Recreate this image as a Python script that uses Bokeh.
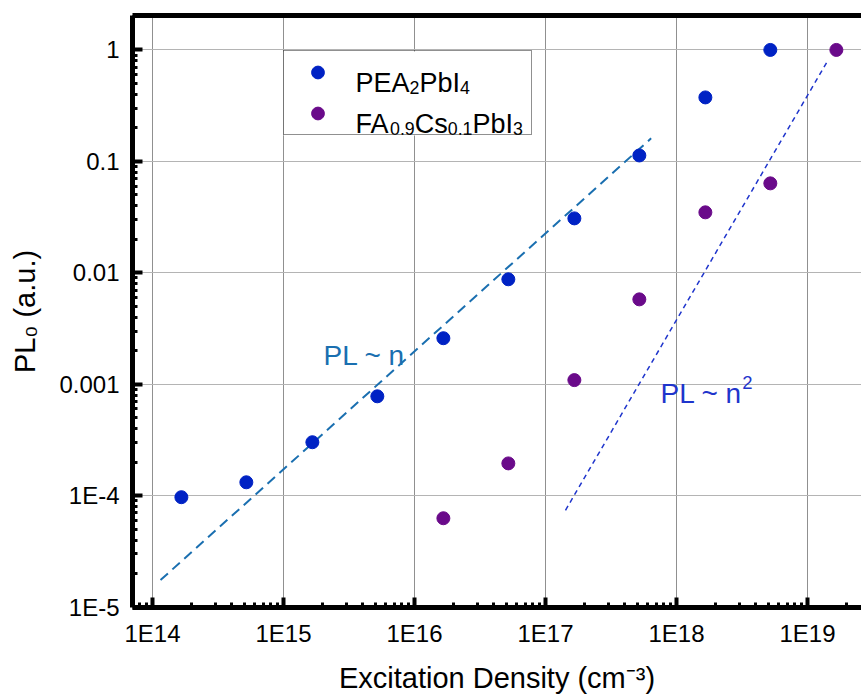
from bokeh.plotting import figure
from bokeh.models import (Range1d, FixedTicker, CustomJSTickFormatter, LogAxis, Label,
                          Legend, LegendItem, BoxAnnotation)
from bokeh.embed import file_html
from bokeh.resources import INLINE

# ---------------- data ----------------
pea_x = [1.66e14, 5.2e14, 1.66e15, 5.2e15, 1.66e16, 5.2e16, 1.66e17, 5.2e17, 1.66e18, 5.2e18]
pea_y = [9.7e-5, 1.32e-4, 3.02e-4, 7.8e-4, 2.59e-3, 8.75e-3, 0.0308, 0.113, 0.375, 1.0]

fa_x = [1.66e16, 5.2e16, 1.66e17, 5.2e17, 1.66e18, 5.2e18, 1.66e19]
fa_y = [6.28e-5, 1.95e-4, 1.09e-3, 5.78e-3, 0.0349, 0.0635, 1.0]

fit_n_x = [1.15e14, 6.4e17]
fit_n_y = [1.75e-5, 0.161]
fit_n2_x = [1.42e17, 1.40e19]
fit_n2_y = [7.4e-5, 0.77]

x_tick_exp = [14, 15, 16, 17, 18, 19]
x_tick_labels = ["1E14", "1E15", "1E16", "1E17", "1E18", "1E19"]
y_tick_exp = [-5, -4, -3, -2, -1, 0]
y_tick_labels = ["1E-5", "1E-4", "0.001", "0.01", "0.1", "1"]

x_label = "Excitation Density (cm\u207b\u00b3)"
y_label = "PL\u2080 (a.u.)"

FONT = "Liberation Sans"
BLUE = "#0022c4"
PURPLE = "#6a0a8a"
TEAL = "#1a6fb0"
LBLUE = "#1f35cc"

# ---------------- figure ----------------
p = figure(width=861, height=698, x_axis_type="log", y_axis_type="log",
           x_range=Range1d(10 ** 13.847, 10 ** 19.412),
           y_range=Range1d(10 ** -5.003, 10 ** 0.309),
           output_backend="svg", toolbar_location=None,
           min_border_left=132, min_border_right=0, min_border_top=15, min_border_bottom=91)
p.outline_line_color = None
p.background_fill_color = "white"


def minors(e_lo, e_hi):
    return [m * 10.0 ** e for e in range(e_lo, e_hi) for m in range(2, 10)]


xt = FixedTicker(ticks=[10.0 ** e for e in x_tick_exp], minor_ticks=minors(13, 20))
yt = FixedTicker(ticks=[10.0 ** e for e in y_tick_exp], minor_ticks=minors(-6, 1))

fmt_code = "const i = Math.round(Math.log10(tick)) - e0; return (i >= 0 && i < labels.length) ? labels[i] : '';"
p.xaxis.ticker = xt
p.yaxis.ticker = yt
p.xaxis.formatter = CustomJSTickFormatter(args=dict(labels=x_tick_labels, e0=x_tick_exp[0]), code=fmt_code)
p.yaxis.formatter = CustomJSTickFormatter(args=dict(labels=y_tick_labels, e0=y_tick_exp[0]), code=fmt_code)

for ax in (p.xaxis[0], p.yaxis[0]):
    ax.axis_line_width = 5
    ax.axis_line_color = "black"
    ax.major_tick_in = 10
    ax.major_tick_out = 0
    ax.minor_tick_in = 5
    ax.minor_tick_out = 0
    ax.major_tick_line_width = 4
    ax.minor_tick_line_width = 3
    ax.major_tick_line_color = "black"
    ax.minor_tick_line_color = "black"
    ax.major_label_text_font = FONT
    ax.major_label_text_font_size = "24px"
    ax.major_label_text_color = "black"
    ax.axis_label_text_font = FONT
    ax.axis_label_text_font_size = "29px"
    ax.axis_label_text_font_style = "normal"
    ax.axis_label_text_color = "black"
p.xaxis.major_label_standoff = 12
p.yaxis.major_label_standoff = 13
p.xaxis.axis_label = x_label
p.yaxis.axis_label = y_label
p.xaxis.axis_label_standoff = 12
p.yaxis.axis_label_standoff = 15

top = LogAxis(ticker=FixedTicker(ticks=[]), axis_line_width=5, axis_line_color="black",
              major_tick_line_color=None, minor_tick_line_color=None,
              major_label_text_font_size="0px")
p.add_layout(top, "above")

p.xgrid.grid_line_color = "#909090"
p.ygrid.grid_line_color = "#b4b4b4"
p.xgrid.grid_line_width = 1
p.ygrid.grid_line_width = 1

# white backing for the legend, drawn over the grid but under the glyphs
p.add_layout(BoxAnnotation(left=151, right=399, bottom=472, top=556,
                           left_units="screen", right_units="screen",
                           bottom_units="screen", top_units="screen",
                           fill_color="white", fill_alpha=1.0, line_color=None,
                           level="underlay", propagate_hover=False))

# ---------------- glyphs ----------------
p.line(fit_n_x, fit_n_y, line_color=TEAL, line_width=2, line_dash="10 6")
p.line(fit_n2_x, fit_n2_y, line_color=LBLUE, line_width=1.5, line_dash="5 4")
r1 = p.scatter(pea_x, pea_y, size=13, fill_color=BLUE, line_color=BLUE)
r2 = p.scatter(fa_x, fa_y, size=13, fill_color=PURPLE, line_color=PURPLE)

legend = Legend(items=[LegendItem(label=" ", renderers=[r1]), LegendItem(label=" ", renderers=[r2])],
                location=(151, 472), margin=0, padding=5, spacing=9,
                glyph_width=57, glyph_height=32, label_height=32, label_width=175, label_standoff=5,
                border_line_color="#222222", border_line_width=1,
                background_fill_alpha=0.0)
p.add_layout(legend, "center")

# ---------------- rich text helper ----------------
W = {"P": 667, "E": 667, "A": 667, "b": 556, "I": 278, "F": 611, "C": 722, "s": 500,
     ".": 278, "L": 556, " ": 278, "~": 584, "n": 556, "(": 333, ")": 333, "a": 556,
     "u": 556, "x": 500, "c": 500, "i": 222, "t": 278, "o": 556, "D": 722, "e": 556,
     "y": 500, "m": 833, "-": 333}


def tw(t, s):
    return sum(W.get(ch, 556) for ch in t) / 1000.0 * s


def rich(segs, x, y, size, color):
    for text, kind in segs:
        fs = size * 0.66 if kind else size
        dy = {"sub": -0.2 * size, "sup": 0.38 * size, None: 0.0}[kind]
        p.add_layout(Label(x=x, y=y + dy, x_units="screen", y_units="screen", text=text,
                           text_font=FONT, text_font_size=f"{fs:.1f}px", text_color=color,
                           text_baseline="alphabetic", text_align="left", level="overlay"))
        x += tw(text, fs)


# legend texts
rich([("PEA", None), ("2", "sub"), ("PbI", None), ("4", "sub")], 223, 525, 27, "black")
rich([("FA", None), ("0.9", "sub"), ("Cs", None), ("0.1", "sub"), ("PbI", None), ("3", "sub")],
     223, 484, 27, "black")
# annotations
rich([("PL ~ n", None)], 191, 252, 28, TEAL)
rich([("PL ~ n", None), ("2", "sup")], 528, 214, 28, LBLUE)

open("out.html", "w").write(file_html(p, INLINE))
